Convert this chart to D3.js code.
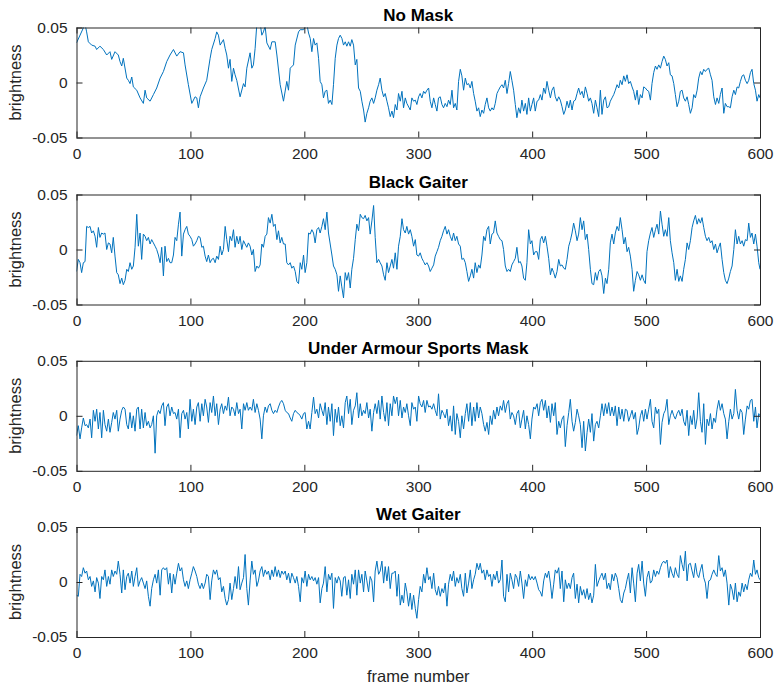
<!DOCTYPE html>
<html>
<head>
<meta charset="utf-8">
<script src="https://cdn.jsdelivr.net/npm/d3@7"></script>
<style>
  body { margin: 0; background: #fff; }
  svg { display: block; }
</style>
</head>
<body>
<svg id="chart" width="774" height="687"></svg>
<script>
/**
 * Brightness vs frame number, one panel per mask type.
 * Values as [frame, brightness] pairs.
 */
const TITLES = ["No Mask", "Black Gaiter", "Under Armour Sports Mask", "Wet Gaiter"];
const FRAME_TICKS = [0, 100, 200, 300, 400, 500, 600];
const BRIGHT_TICKS = [-0.05, 0, 0.05];

const noMask = [
  [0,0.036],[7.5,0.053],[8.9,0.046],[10.4,0.037],[13.3,0.034],[16.3,0.033],[17.7,0.030],[20.6,0.033],[23.6,0.030],[26.5,0.025],
  [29.4,0.028],[30.9,0.021],[33.8,0.028],[36.7,0.025],[38.2,0.019],[39.7,0.015],[41.1,0.022],[44.1,0.004],[45.5,0.002],[47,-0.001],
  [48.5,0.005],[49.9,-0.004],[52.9,-0.007],[55.8,-0.014],[58.7,-0.019],[60.2,-0.007],[61.6,-0.014],[64.6,-0.017],[67.5,-0.011],[70.4,-0.005],
  [73.4,0.004],[76.3,0.010],[79.2,0.019],[82.1,0.025],[85.1,0.030],[88,0.024],[90.9,0.028],[93.9,0.027],[95.3,0.016],[98.2,-0.002],
  [101.2,-0.019],[104.1,-0.013],[105.6,-0.014],[107,-0.023],[108.5,-0.013],[111.4,-0.005],[114.3,0.002],[117.3,0.022],[118.7,0.030],[121.7,0.040],
  [123.1,0.046],[124.6,0.043],[126.1,0.034],[129,0.039],[130.5,0.031],[131.9,0.025],[133.4,0.013],[134.8,0.021],[136.3,0.001],[137.8,0.013],
  [139.2,0.007],[140.7,0.002],[143.6,-0.013],[146.6,-0.001],[148,-0.004],[149.5,0.013],[152.4,0.027],[153.9,0.013],[155.3,0.016],[156.8,0.031],
  [158.3,0.053],[161.2,0.054],[162.7,0.043],[164.1,0.046],[165.6,0.051],[167.1,0.036],[170,0.030],[171.5,0.037],[174.4,0.037],[175.9,0.025],
  [178.8,-0.002],[181.7,-0.017],[184.6,0.001],[186.1,-0.007],[187.6,0.013],[190.5,0.016],[192,0.034],[194.9,0.046],[196.4,0.048],[199.3,0.048],
  [202.2,0.053],[203.7,0.045],[205.2,0.040],[206.6,0.028],[208.1,0.040],[209.5,0.034],[211,0.036],[212.5,0.022],[213.9,0.001],[215.4,-0.002],
  [216.8,-0.014],[218.3,-0.008],[219.8,-0.007],[221.2,-0.019],[222.7,-0.016],[224.2,-0.020],[225.6,-0.002],[227.1,0.022],[228.6,0.034],[230,0.040],
  [231.5,0.043],[233,0.040],[234.4,0.034],[235.9,0.037],[237.3,0.033],[238.8,0.037],[240.3,0.033],[241.7,0.039],[243.2,0.034],[244.7,0.016],
  [246.1,0.021],[247.6,-0.005],[249.1,-0.008],[250.5,-0.017],[252,-0.025],[253.4,-0.036],[254.9,-0.028],[256.4,-0.023],[257.8,-0.017],[259.3,-0.014],
  [260.8,-0.019],[262.2,-0.014],[263.7,-0.007],[265.2,-0.002],[266.6,0.004],[268.1,-0.007],[269.6,-0.013],[271,-0.010],[272.5,-0.017],[273.9,-0.023],
  [275.4,-0.031],[276.9,-0.026],[278.3,-0.032],[279.8,-0.020],[281.3,-0.025],[282.7,-0.010],[284.2,-0.017],[285.7,-0.008],[287.1,-0.023],[288.6,-0.014],
  [290,-0.019],[293,-0.025],[294.4,-0.014],[295.9,-0.017],[297.4,-0.016],[298.8,-0.020],[300.3,-0.013],[301.7,-0.010],[303.2,-0.014],[304.7,-0.008],
  [306.1,-0.010],[307.6,-0.007],[309.1,-0.005],[310.5,-0.017],[312,-0.023],[313.5,-0.014],[314.9,-0.020],[316.4,-0.026],[317.8,-0.014],[319.3,-0.013],
  [320.8,-0.020],[322.2,-0.023],[323.7,-0.019],[325.2,-0.022],[326.6,-0.016],[328.1,-0.020],[329.6,-0.007],[331,-0.023],[332.5,-0.019],[333.9,-0.025],
  [335.4,0.001],[336.9,0.012],[338.3,0.006],[339.8,-0.007],[341.3,0.004],[342.7,-0.002],[344.2,-0.001],[345.7,-0.005],[347.1,0.001],[348.6,-0.010],
  [350,-0.017],[351.5,-0.026],[353,-0.023],[354.4,-0.031],[355.9,-0.025],[357.4,-0.028],[358.8,-0.020],[360.3,-0.014],[361.8,-0.023],[363.2,-0.026],
  [364.7,-0.023],[366.1,-0.025],[367.6,-0.019],[369.1,-0.010],[370.5,-0.007],[372,-0.004],[373.5,-0.002],[374.9,-0.005],[376.4,0.002],[377.9,-0.010],
  [379.3,-0.001],[380.8,0.010],[382.2,0.002],[383.7,-0.007],[385.2,-0.020],[386.6,-0.032],[388.1,-0.023],[389.6,-0.028],[391,-0.016],[392.5,-0.026],
  [394,-0.019],[395.4,-0.029],[396.9,-0.014],[398.4,-0.026],[399.8,-0.020],[401.3,-0.014],[402.7,-0.026],[404.3,-0.017],[405.7,-0.016],[407.2,-0.011],
  [408.6,-0.016],[410.1,-0.005],[411.6,-0.010],[413,0.001],[414.5,-0.007],[416,-0.014],[417.4,-0.007],[418.9,-0.004],[420.3,-0.013],[421.8,-0.017],
  [423.3,-0.013],[424.7,-0.016],[426.2,-0.022],[427.7,-0.029],[429.1,-0.025],[430.6,-0.017],[432.1,-0.023],[433.5,-0.016],[435,-0.025],[436.4,-0.017],
  [437.9,-0.016],[439.4,-0.010],[440.8,-0.005],[442.3,-0.011],[443.8,-0.008],[445.2,-0.014],[446.7,-0.004],[448.2,-0.010],[449.6,-0.017],[451.1,-0.014],
  [452.5,-0.019],[454,-0.028],[455.5,-0.016],[456.9,-0.023],[458.4,-0.031],[459.9,-0.007],[461.3,-0.029],[462.8,-0.016],[464.3,-0.013],[465.7,-0.023],
  [467.2,-0.022],[468.6,-0.017],[470.1,-0.014],[471.6,-0.011],[473,-0.007],[474.5,-0.002],[476,-0.005],[477.4,0.002],[478.9,-0.002],[480.4,0.006],
  [481.8,0.001],[483.3,0.007],[484.7,-0.001],[486.2,0.001],[487.7,-0.004],[489.1,-0.008],[490.6,-0.016],[492.1,-0.007],[493.5,-0.020],[495,-0.011],
  [496.5,-0.014],[497.9,-0.004],[499.4,-0.005],[500.8,-0.007],[502.3,-0.008],[503.8,-0.016],[505.2,-0.001],[506.7,0.009],[508.2,0.015],[509.6,0.012],
  [511.1,0.016],[512.6,0.013],[514,0.019],[515.5,0.024],[516.9,0.021],[518.4,0.015],[519.9,0.018],[521.3,0.007],[522.8,0.006],[524.3,-0.001],
  [525.7,-0.011],[527.2,-0.022],[528.7,-0.017],[530.1,-0.008],[531.6,-0.007],[533,-0.014],[534.5,-0.017],[536,-0.013],[537.4,-0.020],[538.9,-0.028],
  [540.4,-0.023],[541.8,-0.011],[543.3,-0.014],[544.8,-0.007],[546.2,0.004],[547.7,0.010],[549.1,0.007],[550.6,0.012],[552.1,0.010],[553.5,0.012],
  [555,0.013],[556.5,0.007],[557.9,0.002],[559.4,-0.013],[560.9,-0.020],[562.3,-0.014],[563.8,-0.019],[565.2,-0.011],[566.7,-0.005],[568.2,-0.028],
  [569.6,-0.019],[571.1,-0.022],[572.6,-0.022],[574,-0.023],[575.5,-0.013],[577,-0.007],[578.4,-0.011],[579.9,-0.004],[581.3,-0.005],[582.8,0.001],
  [584.3,0.006],[585.7,0.007],[587.2,0.002],[588.7,-0.001],[590.1,0.002],[591.6,0.009],[593,0.012],[594.5,-0.001],[596,-0.007],[597.4,-0.017],
  [598.9,-0.011],[600,-0.014]
];

const blackGaiter = [
  [0,-0.020],[1.6,-0.009],[3.1,-0.012],[4.5,-0.021],[6,-0.012],[7.5,-0.011],[8.9,0.021],[10.4,0.020],[11.9,0.021],[13.3,0.015],
  [14.8,0.017],[16.3,0.012],[17.7,0.002],[19.2,0.020],[20.6,0.011],[22.1,0.015],[23.6,0.014],[25,0.015],[26.5,0],[28,0.006],
  [29.4,0.005],[30.9,-0.003],[32.3,0.011],[33.8,-0.006],[35.3,-0.021],[36.7,-0.023],[38.2,-0.031],[39.7,-0.026],[41.1,-0.032],[42.6,-0.028],
  [44.1,-0.018],[45.5,-0.020],[47,-0.012],[48.5,-0.018],[49.9,-0.015],[51.4,0.002],[52.9,0.032],[54.3,0.003],[55.8,0.015],[57.2,-0.009],
  [58.7,0.014],[60.2,0.012],[61.6,0.008],[63.1,0.011],[64.6,0.005],[66,0.009],[67.5,0.006],[69,0.003],[70.4,0],[71.9,-0.005],
  [73.4,-0.012],[74.8,0.002],[76.3,-0.024],[77.7,0.003],[79.2,-0.011],[80.7,-0.008],[82.1,-0.012],[83.6,-0.012],[85.1,-0.005],[86.5,0.011],
  [88,0.008],[89.5,0.023],[90.9,0.034],[92.4,-0.006],[93.9,0.014],[95.3,0.018],[96.8,0.021],[98.2,0.014],[99.7,0.012],[101.2,0.009],
  [102.6,0.003],[104.1,0.005],[105.6,0.008],[107,0.012],[108.5,0.011],[110,0.002],[111.4,0.003],[112.9,-0.006],[114.3,-0.011],[115.8,-0.005],
  [117.3,-0.012],[118.7,-0.009],[120.2,-0.008],[121.7,-0.012],[123.1,-0.006],[124.6,-0.009],[126.1,0.003],[127.5,-0.005],[129,0],[130.5,0.021],
  [131.9,0.009],[133.4,-0.002],[134.8,0.012],[136.3,0.008],[137.8,0.018],[139.2,0.002],[140.7,0.012],[142.2,0.005],[143.6,0.012],[145.1,0],
  [146.6,0.008],[148,0.005],[149.5,0.002],[150.9,0.006],[152.4,0.003],[153.9,-0.005],[155.3,0],[156.8,-0.020],[158.3,-0.015],[159.7,-0.017],
  [161.2,-0.014],[162.7,0.005],[164.1,0.002],[165.6,0.012],[167.1,0.014],[168.5,0.029],[170,0.024],[171.5,0.032],[172.9,0.021],[174.4,0.023],
  [175.9,0.009],[177.3,0.017],[178.8,0.006],[180.2,0.011],[181.7,0.005],[183.2,0.005],[184.6,-0.012],[186.1,-0.014],[187.6,-0.012],[189,-0.017],
  [190.5,-0.015],[192,-0.020],[193.4,-0.029],[194.9,-0.031],[196.4,-0.012],[197.8,-0.018],[199.3,-0.005],[200.7,-0.021],[202.2,-0.012],[203.7,0.015],
  [205.1,0.014],[206.6,0.018],[208.1,0.015],[209.5,0.006],[211,0.018],[212.5,0.020],[213.9,0.015],[215.4,0.021],[216.8,0.028],[218.3,0.018],
  [219.8,0.034],[221.2,0.015],[222.7,0.005],[224.2,-0.005],[225.6,-0.015],[227.1,-0.018],[228.6,-0.023],[230,-0.038],[231.5,-0.024],[232.9,-0.034],
  [234.4,-0.044],[235.9,-0.021],[237.3,-0.028],[238.8,-0.021],[240.3,-0.035],[241.7,-0.018],[243.2,-0.008],[244.7,0.009],[246.1,0.023],[247.6,0.017],
  [249.1,0.032],[250.5,0.029],[252,0.028],[253.4,0.031],[254.9,0.026],[256.4,0.029],[257.8,0.014],[259.3,0.026],[260.8,0.040],[262.2,0.011],
  [263.7,-0.012],[265.2,-0.009],[266.6,-0.012],[268.1,-0.015],[269.6,-0.023],[271,-0.028],[272.5,-0.012],[273.9,-0.021],[275.4,-0.015],[276.9,-0.009],
  [278.3,-0.017],[279.8,-0.003],[281.3,-0.018],[282.7,0.003],[284.2,0.012],[285.7,0.028],[287.1,0.018],[288.6,0.015],[290,0.021],[291.5,0.014],
  [293,0.018],[294.4,0.012],[295.9,0.003],[297.4,0.009],[298.8,-0.005],[300.3,-0.006],[301.7,-0.003],[303.2,-0.008],[304.7,-0.011],[306.1,-0.014],
  [307.6,-0.012],[309.1,-0.015],[310.5,-0.020],[312,-0.017],[313.5,-0.014],[314.9,-0.006],[316.4,-0.002],[317.8,0.002],[319.3,0.008],[320.8,0.012],
  [322.2,0.017],[323.7,0.021],[325.2,0.014],[326.6,0.018],[328.1,0.012],[329.6,0.008],[331,0.015],[332.5,0.008],[333.9,0.012],[335.4,0.005],
  [336.9,0.003],[338.3,-0.009],[339.8,-0.008],[341.3,-0.012],[342.7,-0.020],[344.2,-0.029],[345.7,-0.024],[347.1,-0.018],[348.6,-0.026],[350,-0.012],
  [351.5,-0.021],[353,-0.014],[354.4,-0.017],[355.9,-0.005],[357.4,0.012],[358.8,0.008],[360.3,0.018],[361.8,0.021],[363.2,0.005],[364.7,0.014],
  [366.1,0.015],[367.6,0.026],[369.1,0.015],[370.5,0.012],[372,0.009],[373.5,0.008],[374.9,0],[376.4,-0.015],[377.9,-0.020],[379.3,-0.018],
  [380.8,-0.020],[382.2,-0.014],[383.7,-0.011],[385.2,-0.008],[386.6,0.002],[388.1,-0.012],[389.6,-0.011],[391,-0.015],[392.5,-0.026],[394,-0.028],
  [395.4,-0.012],[396.9,0.018],[398.4,0.005],[399.8,0.008],[401.3,-0.005],[402.7,-0.002],[404.3,-0.002],[405.7,-0.009],[407.2,0.009],[408.6,0.012],
  [410.1,0.006],[411.6,0.012],[413,0.003],[414.5,-0.008],[416,-0.023],[417.4,-0.017],[418.9,-0.021],[420.3,-0.026],[421.8,-0.020],[423.3,-0.009],
  [424.7,-0.015],[426.2,-0.014],[427.7,-0.017],[429.1,-0.018],[430.6,-0.009],[432.1,0.003],[433.5,0.008],[435,0.015],[436.4,0.024],[437.9,0.017],
  [439.4,0.008],[440.8,0.014],[442.3,0.029],[443.8,0.018],[445.2,0.026],[446.7,0.009],[448.2,0.014],[449.6,0],[451.1,-0.018],[452.5,-0.031],
  [454,-0.032],[455.5,-0.021],[456.9,-0.028],[458.4,-0.020],[459.9,-0.018],[461.3,-0.024],[462.8,-0.040],[464.3,-0.026],[465.7,-0.031],[467.2,-0.018],
  [468.6,0.006],[470.1,0.014],[471.6,0.005],[473,0.015],[474.5,0.021],[476,0.017],[477.4,0.029],[478.9,0.018],[480.4,0.005],[481.8,0.011],
  [483.3,-0.002],[484.7,0.002],[486.2,-0.006],[487.7,-0.018],[489.1,-0.038],[490.6,-0.028],[492.1,-0.020],[493.5,-0.023],[495,-0.028],[496.5,-0.023],
  [497.9,-0.028],[499.4,-0.031],[500.8,-0.002],[502.3,0.008],[503.8,0.015],[505.2,0.020],[506.7,0.011],[508.2,0.018],[509.6,0.023],[511.1,0.014],
  [512.6,0.035],[514,0.023],[515.5,0.012],[516.9,0.018],[518.4,0.012],[519.9,0.029],[521.3,0.008],[522.8,-0.003],[524.3,-0.012],[525.7,-0.028],
  [527.2,-0.018],[528.7,-0.029],[530.1,-0.024],[531.6,-0.029],[533,-0.018],[534.5,-0.009],[536,0.006],[537.4,0],[538.9,0.008],[540.4,0.020],
  [541.8,0.026],[543.3,0.031],[544.8,0.023],[546.2,0.028],[547.7,0.024],[549.1,0.029],[550.6,0.020],[552.1,0.012],[553.5,0.008],[555,0.011],
  [556.5,0.006],[557.9,0.008],[559.4,0],[560.9,0.005],[562.3,-0.003],[563.8,0.002],[565.2,0.006],[566.7,-0.009],[568.2,-0.021],[569.6,-0.028],
  [571.1,-0.031],[572.6,-0.026],[574,-0.020],[575.5,-0.015],[577,0],[578.4,0.018],[579.9,0.005],[581.3,0.012],[582.8,0.005],[584.3,0.008],
  [585.7,0.003],[587.2,0.009],[588.7,0.008],[590.1,0.024],[591.6,0.011],[593,0.015],[594.5,0.005],[596,0.014],[597.4,0.003],[598.9,-0.012],
  [600,-0.018]
];

const underArmour = [
  [0,-0.018],[1.6,-0.009],[3.1,-0.021],[4.5,-0.011],[6,-0.002],[7.5,-0.009],[8.9,-0.008],[10.4,-0.011],[11.9,-0.003],[13.3,-0.020],
  [14.8,0.005],[16.3,-0.005],[17.7,0.006],[19.2,-0.012],[20.6,0.003],[22.1,-0.020],[23.6,0.005],[25,-0.008],[26.5,-0.014],[28,-0.003],
  [29.4,-0.015],[30.9,-0.006],[32.3,0.003],[33.8,-0.003],[35.3,0.005],[36.7,-0.014],[38.2,-0.003],[39.7,0.005],[41.1,0.008],[42.6,0.006],
  [44.1,-0.008],[45.5,-0.012],[47,0.003],[48.5,-0.011],[49.9,0],[51.4,-0.014],[52.9,0.006],[54.3,0.008],[55.8,-0.012],[57.2,0.006],
  [58.7,-0.011],[60.2,0.003],[61.6,-0.009],[63.1,-0.005],[64.6,-0.011],[66,-0.008],[67.5,0],[69,-0.034],[70.4,0],[71.9,0.005],
  [73.4,0.002],[74.8,0.009],[76.3,0.012],[77.7,-0.009],[79.2,0.008],[80.7,0.011],[82.1,0],[83.6,0.008],[85.1,0.002],[86.5,0.003],
  [88,-0.003],[89.5,0.006],[90.9,-0.020],[92.4,0.002],[93.9,0.005],[95.3,-0.003],[96.8,0.003],[98.2,-0.012],[99.7,0.015],[101.2,-0.005],
  [102.6,0.006],[104.1,-0.008],[105.6,0.008],[107,0.012],[108.5,-0.005],[110,0.011],[111.4,0],[112.9,0.015],[114.3,0.008],[115.8,-0.006],
  [117.3,0.012],[118.7,0.003],[120.2,0.018],[121.7,0],[123.1,0.011],[124.6,-0.008],[126.1,0.006],[127.5,0.011],[129,0.002],[130.5,0.009],
  [131.9,0.005],[133.4,0.017],[134.8,0],[136.3,0.008],[137.8,0.006],[139.2,0],[140.7,0.012],[142.2,0.002],[143.6,0.006],[145.1,-0.012],
  [146.6,0.011],[148,0.005],[149.5,0.012],[150.9,0.005],[152.4,0.008],[153.9,0.005],[155.3,0.015],[156.8,0.003],[158.3,0.011],[159.7,0.005],
  [161.2,-0.003],[162.7,-0.021],[164.1,0],[165.6,0.008],[167.1,0.003],[168.5,0.009],[170,0.011],[171.5,0.005],[172.9,0.002],[174.4,0.005],
  [175.9,0.003],[177.3,0.008],[178.8,0.012],[180.2,0.014],[181.7,0.011],[183.2,0.005],[184.6,0.003],[186.1,0.002],[187.6,-0.002],[189,-0.005],
  [190.5,0.002],[192,0.005],[193.4,0.003],[194.9,0.002],[196.4,0],[197.8,-0.003],[199.3,0.002],[200.7,0.003],[202.2,-0.012],[203.7,-0.005],
  [205.1,-0.012],[206.6,0.003],[208.1,0.017],[209.5,0.002],[211,0.006],[212.5,-0.002],[213.9,0.011],[215.4,0.005],[216.8,0],[218.3,0.012],
  [219.8,-0.008],[221.2,0.008],[222.7,-0.005],[224.2,0.011],[225.6,-0.018],[227.1,0.006],[228.6,-0.006],[230,0.008],[231.5,-0.009],[232.9,0],
  [234.4,-0.011],[235.9,0.012],[237.3,0.018],[238.8,0.002],[240.3,0.015],[241.7,-0.008],[243.2,0.005],[244.7,0.009],[246.1,0.021],[247.6,-0.002],
  [249.1,0.011],[250.5,0],[252,0.005],[253.4,0.002],[254.9,0.012],[256.4,-0.002],[257.8,0.006],[259.3,-0.014],[260.8,0.003],[262.2,0.011],
  [263.7,0.002],[265.2,0.014],[266.6,-0.003],[268.1,0.018],[269.6,0.003],[271,-0.005],[272.5,0.012],[273.9,-0.009],[275.4,0.011],[276.9,0],
  [278.3,0.018],[279.8,0.011],[281.3,0.017],[282.7,0],[284.2,0.014],[285.7,-0.002],[287.1,0.008],[288.6,0.003],[290,0.011],[291.5,0],
  [293,-0.009],[294.4,0.012],[295.9,0.006],[297.4,0.008],[298.8,-0.005],[300.3,0.018],[301.7,0.011],[303.2,0.008],[304.7,0.014],[306.1,0.003],
  [307.6,0.014],[309.1,0.008],[310.5,0.009],[312,0.006],[313.5,0.011],[314.9,0.005],[316.4,0],[317.8,0.020],[319.3,-0.003],[320.8,0.005],
  [322.2,0.002],[323.7,-0.002],[325.2,0.006],[326.6,-0.009],[328.1,0],[329.6,-0.014],[331,0.009],[332.5,-0.017],[333.9,0.002],[335.4,-0.005],
  [336.9,-0.020],[338.3,0],[339.8,-0.012],[341.3,0.002],[342.7,0.011],[344.2,-0.005],[345.7,0.012],[347.1,-0.009],[348.6,0.008],[350,-0.005],
  [351.5,0.012],[353,-0.002],[354.4,0.008],[355.9,0.002],[357.4,-0.008],[358.8,-0.014],[360.3,-0.006],[361.8,-0.017],[363.2,0],[364.7,-0.008],
  [366.1,0.005],[367.6,-0.003],[369.1,0.008],[370.5,0],[372,0.009],[373.5,0.005],[374.9,0.014],[376.4,0.003],[377.9,0.011],[379.3,0.014],
  [380.8,-0.003],[382.2,0.003],[383.7,0],[385.2,-0.008],[386.6,0.002],[388.1,0.005],[389.6,-0.011],[391,-0.003],[392.5,0.005],[394,-0.012],
  [395.4,0],[396.9,-0.008],[398.4,-0.021],[399.8,-0.003],[401.3,0.008],[402.7,0.006],[404.3,0.011],[405.7,0],[407.2,0.012],[408.6,0.015],
  [410.1,0.005],[411.6,0.014],[413,-0.002],[414.5,0.009],[416,-0.006],[417.4,0.011],[418.9,0],[420.3,0.012],[421.8,-0.017],[423.3,-0.005],
  [424.7,-0.011],[426.2,-0.003],[427.7,0],[429.1,-0.028],[430.6,-0.009],[432.1,0.003],[433.5,0.015],[435,-0.005],[436.4,-0.014],[437.9,-0.006],
  [439.4,0.006],[440.8,0],[442.3,-0.008],[443.8,-0.029],[445.2,-0.005],[446.7,-0.032],[448.2,-0.015],[449.6,-0.003],[451.1,-0.015],[452.5,0.002],
  [454,-0.023],[455.5,-0.008],[456.9,-0.005],[458.4,-0.011],[459.9,0],[461.3,0.011],[462.8,0],[464.3,0.011],[465.7,0.002],[467.2,0.012],
  [468.6,0],[470.1,0.008],[471.6,0],[473,0.009],[474.5,-0.009],[476,0.008],[477.4,-0.003],[478.9,0.006],[480.4,-0.005],[481.8,0.006],
  [483.3,0.005],[484.7,-0.005],[486.2,0],[487.7,0.005],[489.1,-0.003],[490.6,0.003],[492.1,-0.017],[493.5,-0.011],[495,0],[496.5,0.005],
  [497.9,-0.005],[499.4,0.006],[500.8,-0.003],[502.3,0.006],[503.8,0.015],[505.2,-0.005],[506.7,-0.011],[508.2,0.008],[509.6,0.002],[511.1,0.006],
  [512.6,-0.026],[514,-0.006],[515.5,0.002],[516.9,0.005],[518.4,0.015],[519.9,-0.008],[521.3,0],[522.8,0.005],[524.3,0],[525.7,-0.003],
  [527.2,0.002],[528.7,0.005],[530.1,0],[531.6,0.006],[533,-0.005],[534.5,-0.009],[536,0.005],[537.4,-0.018],[538.9,0],[540.4,-0.008],
  [541.8,0.005],[543.3,-0.012],[544.8,-0.002],[546.2,0.021],[547.7,-0.005],[549.1,-0.015],[550.6,0.011],[552.1,-0.026],[553.5,-0.003],[555,-0.009],
  [556.5,0.002],[557.9,-0.012],[559.4,-0.002],[560.9,-0.006],[562.3,0.006],[563.8,0.014],[565.2,0.005],[566.7,0.011],[568.2,0.002],[569.6,-0.003],
  [571.1,-0.021],[572.6,-0.005],[574,0.006],[575.5,-0.003],[577,0.002],[578.4,0.024],[579.9,0.005],[581.3,-0.003],[582.8,0.006],[584.3,0.003],
  [585.7,-0.017],[587.2,-0.003],[588.7,0.009],[590.1,0.006],[591.6,0.014],[593,0.015],[594.5,-0.005],[596,0.008],[597.4,-0.011],[598.9,0.002],
  [600,0]
];

const wetGaiter = [
  [0,-0.012],[1.6,-0.013],[3.1,0.007],[4.5,0.005],[6,0.013],[7.5,0.008],[8.9,0.010],[10.4,0.002],[11.9,0.005],[13.3,-0.004],
  [14.8,0.001],[16.3,-0.009],[17.7,0.004],[19.2,-0.001],[20.6,-0.015],[22.1,0.005],[23.6,0.002],[25,0.011],[26.5,-0.004],[28,0.005],
  [29.4,-0.002],[30.9,0.011],[32.3,0.005],[33.8,0.010],[35.3,0.007],[36.7,0.019],[38.2,0.007],[39.7,-0.010],[41.1,0.011],[42.6,-0.007],
  [44.1,0.005],[45.5,0.008],[47,-0.001],[48.5,0.010],[49.9,-0.004],[51.4,0.005],[52.9,0.013],[54.3,-0.004],[55.8,0.001],[57.2,0.004],
  [58.7,-0.001],[60.2,-0.006],[61.6,0.001],[63.1,-0.013],[64.6,-0.022],[66,-0.006],[67.5,0.002],[69,0.007],[70.4,-0.001],[71.9,0.011],
  [73.4,-0.012],[74.8,0.011],[76.3,0.013],[77.7,0.011],[79.2,0.013],[80.7,-0.002],[82.1,0.008],[83.6,-0.010],[85.1,0.007],[86.5,-0.002],
  [88,0.008],[89.5,0.017],[90.9,0.010],[92.4,0.013],[93.9,0.002],[95.3,-0.004],[96.8,0.001],[98.2,-0.006],[99.7,0.002],[101.2,0.008],
  [102.6,0.014],[104.1,0.010],[105.6,0.005],[107,-0.002],[108.5,-0.006],[110,-0.001],[111.4,-0.006],[112.9,-0.001],[114.3,0.007],[115.8,0.005],
  [117.3,-0.016],[118.7,0.001],[120.2,0.011],[121.7,0.007],[123.1,0.011],[124.6,0.002],[126.1,0.004],[127.5,-0.009],[129,-0.004],[130.5,-0.015],
  [131.9,-0.021],[133.4,-0.016],[134.8,-0.001],[136.3,-0.016],[137.8,-0.006],[139.2,0.005],[140.7,-0.006],[142.2,0.014],[143.6,-0.007],[145.1,-0.001],
  [146.6,0.004],[148,0.025],[149.5,-0.006],[150.9,-0.021],[152.4,0.001],[153.9,0.019],[155.3,0.007],[156.8,0.011],[158.3,-0.004],[159.7,0.001],
  [161.2,0.010],[162.7,0.014],[164.1,0.005],[165.6,0.011],[167.1,0.007],[168.5,0.010],[170,0.002],[171.5,0.011],[172.9,0.005],[174.4,0.014],
  [175.9,0.005],[177.3,0.011],[178.8,0.004],[180.2,0.010],[181.7,0.007],[183.2,0.010],[184.6,0.002],[186.1,0.008],[187.6,-0.001],[189,0.008],
  [190.5,0.004],[192,-0.001],[193.4,0.005],[194.9,-0.004],[196.4,-0.018],[197.8,0.004],[199.3,-0.001],[200.7,0.010],[202.2,-0.004],[203.7,0.007],
  [205.1,0.002],[206.6,0.005],[208.1,0.001],[209.5,0.004],[211,-0.002],[212.5,0.004],[213.9,-0.019],[215.4,-0.006],[216.8,-0.001],[218.3,0.014],
  [219.8,-0.009],[221.2,0.007],[222.7,0.002],[224.2,0.008],[225.6,-0.024],[227.1,0.004],[228.6,-0.001],[230,0.005],[231.5,0.001],[232.9,-0.013],
  [234.4,0.004],[235.9,0.005],[237.3,-0.012],[238.8,0.002],[240.3,-0.015],[241.7,0.007],[243.2,-0.002],[244.7,0.011],[246.1,-0.012],[247.6,0.011],
  [249.1,-0.001],[250.5,0.007],[252,-0.009],[253.4,0.010],[254.9,0.001],[256.4,-0.009],[257.8,0.005],[259.3,0.001],[260.8,-0.018],[262.2,0.010],
  [263.7,0.019],[265.2,0.007],[266.6,0.010],[268.1,0.019],[269.6,-0.001],[271,0.014],[272.5,0.001],[273.9,0.014],[275.4,-0.006],[276.9,0.008],
  [278.3,0.008],[279.8,0.010],[281.3,-0.013],[282.7,0.007],[284.2,-0.021],[285.7,-0.012],[287.1,-0.019],[288.6,-0.001],[290,-0.009],[291.5,-0.022],
  [293,-0.010],[294.4,-0.025],[295.9,-0.012],[297.4,-0.024],[298.8,-0.033],[300.3,-0.016],[301.7,-0.004],[303.2,-0.009],[304.7,0.007],[306.1,-0.001],
  [307.6,0.013],[309.1,0.002],[310.5,0.005],[312,-0.006],[313.5,0.008],[314.9,-0.007],[316.4,-0.012],[317.8,-0.004],[319.3,-0.013],[320.8,-0.006],
  [322.2,-0.010],[323.7,-0.001],[325.2,-0.022],[326.6,-0.002],[328.1,0.007],[329.6,0.001],[331,0.010],[332.5,-0.004],[333.9,0.004],[335.4,-0.001],
  [336.9,0.007],[338.3,-0.006],[339.8,-0.013],[341.3,0.008],[342.7,-0.010],[344.2,-0.001],[345.7,0.011],[347.1,-0.006],[348.6,0.002],[350,0.007],
  [351.5,0.017],[353,0.011],[354.4,0.017],[355.9,0.008],[357.4,0.011],[358.8,0.002],[360.3,0.011],[361.8,0.005],[363.2,0.007],[364.7,-0.004],
  [366.1,0.007],[367.6,0.002],[369.1,0.010],[370.5,-0.001],[372,0.002],[373.5,0.020],[374.9,-0.013],[376.4,-0.018],[377.9,0.007],[379.3,-0.009],
  [380.8,0.008],[382.2,0.002],[383.7,-0.006],[385.2,0.007],[386.6,0.004],[388.1,-0.004],[389.6,0.010],[391,-0.001],[392.5,-0.015],[394,0.002],
  [395.4,-0.004],[396.9,0.007],[398.4,0.002],[399.8,0.005],[401.3,0.002],[402.7,0.005],[404.3,-0.001],[405.7,-0.007],[407.2,-0.009],[408.6,-0.013],
  [410.1,0.001],[411.6,0.008],[413,0.004],[414.5,0.010],[416,-0.001],[417.4,-0.015],[418.9,-0.002],[420.3,0.011],[421.8,0.008],[423.3,0.013],
  [424.7,-0.006],[426.2,0.010],[427.7,-0.018],[429.1,0.002],[430.6,-0.006],[432.1,-0.001],[433.5,-0.006],[435,0.004],[436.4,0.008],[437.9,-0.015],
  [439.4,-0.002],[440.8,-0.019],[442.3,-0.004],[443.8,-0.012],[445.2,-0.007],[446.7,-0.015],[448.2,-0.006],[449.6,-0.016],[451.1,-0.010],[452.5,-0.019],
  [454,-0.012],[455.5,0.016],[456.9,-0.004],[458.4,0.001],[459.9,0.005],[461.3,0.008],[462.8,0.002],[464.3,0.008],[465.7,-0.006],[467.2,-0.001],
  [468.6,-0.007],[470.1,0.007],[471.6,0.001],[473,0.008],[474.5,0.004],[476,-0.006],[477.4,-0.016],[478.9,-0.019],[480.4,-0.010],[481.8,-0.006],
  [483.3,0.002],[484.7,0.008],[486.2,-0.010],[487.7,0.013],[489.1,-0.001],[490.6,-0.018],[492.1,0.008],[493.5,0.016],[495,0.001],[496.5,0.019],
  [497.9,-0.001],[499.4,-0.013],[500.8,0.004],[502.3,0.010],[503.8,-0.001],[505.2,0.001],[506.7,0.011],[508.2,0.005],[509.6,0.010],[511.1,0.007],
  [512.6,0.013],[514,0.017],[515.5,0.019],[516.9,0.017],[518.4,0.020],[519.9,0.004],[521.3,0.014],[522.8,0.008],[524.3,0.004],[525.7,0.013],
  [527.2,0.007],[528.7,0.004],[530.1,0.024],[531.6,0.016],[533,0.010],[534.5,0.028],[536,0.001],[537.4,0.016],[538.9,0.017],[540.4,0.010],
  [541.8,0.004],[543.3,0.017],[544.8,0.007],[546.2,0.004],[547.7,0.011],[549.1,0.016],[550.6,0.004],[552.1,-0.001],[553.5,-0.015],[555,0.001],
  [556.5,0.002],[557.9,0.007],[559.4,0.011],[560.9,0.007],[562.3,0.005],[563.8,0.024],[565.2,0.010],[566.7,0.013],[568.2,0.005],[569.6,0.011],
  [571.1,-0.001],[572.6,-0.021],[574,-0.002],[575.5,-0.007],[577,-0.016],[578.4,-0.001],[579.9,-0.018],[581.3,-0.009],[582.8,-0.013],[584.3,-0.001],
  [585.7,-0.009],[587.2,-0.002],[588.7,-0.007],[590.1,0.002],[591.6,0.008],[593,0.005],[594.5,0.020],[596,0.007],[597.4,0.011],[598.9,0.004],
  [600,0.002]
];

const SERIES = [noMask, blackGaiter, underArmour, wetGaiter];

/**
 * Layout
 */
const FONT = '"Liberation Sans", Arial, Helvetica, sans-serif';
const AXIS_COLOR = "#262626";
const LINE_COLOR = "#0072BD";
const plotLeft = 76.5;
const plotW = 683.5;
const plotH = 110;
const panelTops = [27.5, 194.5, 360.8, 527];

var svg = d3.select("#chart");
svg.append("rect").attr("width", 774).attr("height", 687).attr("fill", "#fff");

var x = d3.scaleLinear().domain([0, 600]).range([0, plotW]);
var y = d3.scaleLinear().domain([-0.05, 0.05]).range([plotH, 0]);
var line = d3.line().x(d => x(d[0])).y(d => y(d[1]));

// styles an axis group like a matlab axis
function styleAxis(g) {
  g.attr("font-family", FONT).attr("font-size", 15.5);
  g.select(".domain").remove();
  g.selectAll(".tick line").attr("stroke", AXIS_COLOR);
  g.selectAll(".tick text").attr("fill", AXIS_COLOR);
}

SERIES.forEach(function (data, i) {
  var g = svg.append("g").attr("transform", "translate(" + plotLeft + "," + panelTops[i] + ")");

  g.append("clipPath").attr("id", "clip" + i)
    .append("rect").attr("width", plotW).attr("height", plotH);

  g.append("path")
    .datum(data)
    .attr("clip-path", "url(#clip" + i + ")")
    .attr("fill", "none")
    .attr("stroke", LINE_COLOR)
    .attr("stroke-width", 1)
    .attr("stroke-linejoin", "round")
    .attr("d", line);

  // ticks point inward on all four sides
  g.append("g").attr("transform", "translate(0," + plotH + ")")
    .call(d3.axisBottom(x).tickValues(FRAME_TICKS).tickSize(-6).tickSizeOuter(0).tickPadding(10))
    .call(styleAxis);
  g.append("g")
    .call(d3.axisTop(x).tickValues(FRAME_TICKS).tickSize(-6).tickSizeOuter(0).tickFormat(""))
    .call(styleAxis);
  g.append("g")
    .call(d3.axisLeft(y).tickValues(BRIGHT_TICKS).tickSize(-6).tickSizeOuter(0).tickPadding(9)
      .tickFormat(d => d === 0 ? "0" : d3.format(".2f")(d).replace("−", "-")))
    .call(styleAxis);
  g.append("g").attr("transform", "translate(" + plotW + ",0)")
    .call(d3.axisRight(y).tickValues(BRIGHT_TICKS).tickSize(-6).tickSizeOuter(0).tickFormat(""))
    .call(styleAxis);

  // box
  g.append("rect")
    .attr("x", 0.5).attr("y", 0.5)
    .attr("width", plotW).attr("height", plotH)
    .attr("fill", "none").attr("stroke", AXIS_COLOR).attr("stroke-width", 1);

  g.append("text")
    .attr("x", plotW / 2).attr("y", -7)
    .attr("text-anchor", "middle")
    .attr("font-family", FONT).attr("font-size", 17).attr("font-weight", "bold")
    .attr("fill", "#000")
    .text(TITLES[i]);

  g.append("text")
    .attr("transform", "translate(" + (-56) + "," + (plotH / 2) + ") rotate(-90)")
    .attr("text-anchor", "middle")
    .attr("font-family", FONT).attr("font-size", 16.5)
    .attr("fill", AXIS_COLOR)
    .text("brightness");
});

svg.append("text")
  .attr("x", plotLeft + plotW / 2).attr("y", 682)
  .attr("text-anchor", "middle")
  .attr("font-family", FONT).attr("font-size", 16.5)
  .attr("fill", AXIS_COLOR)
  .text("frame number");
</script>
</body>
</html>
